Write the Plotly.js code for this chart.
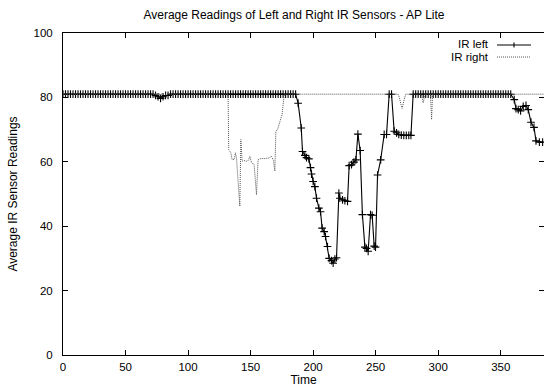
<!DOCTYPE html>
<html>
<head>
<meta charset="utf-8">
<script src="https://cdn.plot.ly/plotly-3.0.1.min.js"></script>
<style>html,body{margin:0;padding:0;background:#fff;}#chart{width:544px;height:392px;}</style>
</head>
<body>
<div id="chart"></div>
<script>
// IR left samples
const leftTime = [
  0,2,4,6,8,10,12,14,16,18,20,22,24,26,28,30,32,34,36,38,40,42,44,46,48,50,52,54,56,58,
  60,62,64,66,68,70,72,74,76,78,80,82,84,86,88,90,92,94,96,98,100,102,104,106,108,110,
  112,114,116,118,120,122,124,126,128,130,132,134,136,138,140,142,144,146,148,150,152,
  154,156,158,160,162,164,166,168,170,172,174,176,178,180,182,184,186,
  188,190.5,191.5,193.4,194.7,196.6,197.9,198.7,200,201.4,202.7,204.6,205.9,207.2,208.8,
  209.9,211.5,212.8,214.7,216,217.4,218.7,220.6,221.4,223.5,225.4,227.5,228.8,230.7,
  232.6,234.2,235.8,237.6,239.4,241.4,242.7,244,245.9,247.2,248.8,249.9,251.5,254,
  256.8,258.7,260.8,262.7,264.8,266.7,268.5,270.5,272.5,274.5,276.5,278.2,280,
  282,284,286,288,290,292,294,296,298,300,302,304,306,308,310,312,314,316,318,320,
  322,324,326,328,330,332,334,336,338,340,342,344,346,348,350,352,354,356,358,
  360.8,362.2,364,365.9,368,370.2,372,374.2,376.6,378.2,380.9,383.5
];
const leftValues = [
  81,81,81,81,81,81,81,81,81,81,81,81,81,81,81,81,81,81,81,81,81,81,81,81,81,81,81,81,81,81,
  81,81,81,81,81,81,81,80.6,80.2,79.7,80.2,80.6,80.6,81,81,81,81,81,81,81,81,81,81,81,81,81,
  81,81,81,81,81,81,81,81,81,81,81,81,81,81,81,81,81,81,81,81,81,
  81,81,81,81,81,81,81,81,81,81,81,81,81,81,81,81,81,
  78.2,70.5,63.2,62,61.3,60.9,58.2,56.2,53.9,52.3,48.7,45.6,44.5,39.4,38.3,
  36.8,33.7,30,29.3,28.5,29.8,30.2,50.3,48.7,48.2,47.9,47.7,58.8,59.1,
  59.9,60.6,68.6,63.5,43.6,33.5,33.1,32.2,43.6,43.4,33.8,33.5,55.9,60.6,
  68.5,68.5,81,81,69.5,69,68.5,68.3,68.2,68.2,68.2,68.2,81,
  81,81,81,81,81,81,81,81,81,81,81,81,81,81,81,81,81,81,81,81,
  81,81,81,81,81,81,81,81,81,81,81,81,81,81,81,81,81,81,81,
  79.3,76.5,76.2,75.8,77.2,77.5,76.2,72.3,70.7,66.5,66.1,66.1
];
// IR right samples
const rightTime = [
  0,132,132.5,134.2,135.2,136.8,137.9,138.7,141.4,142.2,143.2,144.8,146.7,148.3,149.4,
  150.7,152.8,154.7,156,158.2,161.4,164.6,166.7,168.3,169.4,170.2,171.5,172.6,173.9,
  175.2,176.6,177,268,269,270.2,271.2,272.5,274,286.5,288,289.5,293.8,294.7,295.5,384.6
];
const rightValues = [
  81,81,63.8,62.8,60.7,60.7,62.8,61.2,46.2,66.9,60.2,60.4,60.2,60.5,61.7,
  59.7,59.2,49.8,60.7,61,61,61.2,61.7,60.4,57.1,69.5,70,71.6,72.6,
  74.7,79.9,81,81,79.9,77.8,76.6,78.9,81,81,78.3,81,81,73.1,81,81
];
const xTicks = [0,50,100,150,200,250,300,350];
const yTicks = [0,20,40,60,80,100];
const seriesNames = ["IR left", "IR right"];

const family = "Liberation Sans, Arial, Helvetica, sans-serif";
const font = {family: family, size: 12, color: "#000"};
const tickFont = {family: family, size: 11.5, color: "#000"};
const legendFont = {family: family, size: 11.5, color: "#000"};

const traces = [
  {x: leftTime, y: leftValues, name: seriesNames[0], type: "scatter", mode: "lines+markers",
   line: {color: "#000", width: 1.1},
   marker: {symbol: "cross-thin", size: 5.5, color: "#000", line: {color: "#000", width: 1.1}}},
  {x: rightTime, y: rightValues, name: seriesNames[1], type: "scatter", mode: "lines",
   line: {color: "#555", width: 1, dash: "1px,1px"}}
];

// manual gnuplot-style legend (text left of sample)
const plotL = 63, plotW = 481, plotT = 33, plotH = 322;
const px = v => (v - plotL) / plotW;
const py = v => (plotT + plotH - v) / plotH;

const layout = {
  width: 544, height: 392,
  margin: {l: 63, r: 0, t: 33, b: 37},
  paper_bgcolor: "#fff", plot_bgcolor: "#fff",
  font: font,
  showlegend: false,
  title: {text: "Average Readings of Left and Right IR Sensors - AP Lite", font: font,
          xref: "paper", x: px(294), xanchor: "center",
          yref: "container", y: 1 - 15/392, yanchor: "middle"},
  xaxis: {range: [0, 384.6], tickvals: xTicks, ticktext: xTicks.map(String), tickfont: tickFont,
          ticks: "inside", ticklen: 5, tickcolor: "#000", tickwidth: 1,
          showline: true, linecolor: "#000", linewidth: 1, mirror: "ticks",
          showgrid: false, zeroline: false, ticklabelstandoff: 1,
          title: {text: "Time", font: font, standoff: 1}},
  yaxis: {range: [0, 100], tickvals: yTicks, ticktext: yTicks.map(String), tickfont: tickFont,
          ticks: "inside", ticklen: 5, tickcolor: "#000", tickwidth: 1,
          showline: true, linecolor: "#000", linewidth: 1, mirror: "ticks",
          showgrid: false, zeroline: false, ticklabelstandoff: 7,
          title: {text: "Average IR Sensor Readings", font: font, standoff: 13}},
  annotations: [
    {xref: "paper", yref: "paper", x: px(490), y: py(44.5), xanchor: "right", yanchor: "middle",
     text: seriesNames[0], showarrow: false, font: legendFont, borderpad: 0},
    {xref: "paper", yref: "paper", x: px(490), y: py(57), xanchor: "right", yanchor: "middle",
     text: seriesNames[1], showarrow: false, font: legendFont, borderpad: 0}
  ],
  shapes: [
    {type: "line", xref: "paper", yref: "paper", x0: px(497), x1: px(531), y0: py(45), y1: py(45),
     line: {color: "#000", width: 1.1}},
    {type: "line", xref: "paper", yref: "paper", x0: px(514), x1: px(514), y0: py(42.5), y1: py(47.5),
     line: {color: "#000", width: 1.1}},
    {type: "line", xref: "paper", yref: "paper", x0: px(497), x1: px(531), y0: py(57), y1: py(57),
     line: {color: "#555", width: 1, dash: "1px,1px"}}
  ]
};

Plotly.newPlot("chart", traces, layout, {displayModeBar: false, staticPlot: true});
</script>
</body>
</html>
